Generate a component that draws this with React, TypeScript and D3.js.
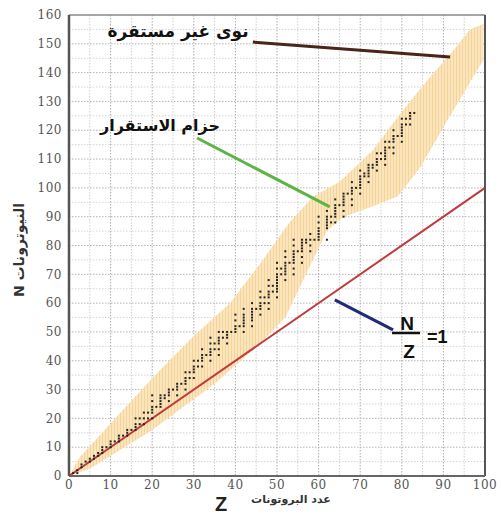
import * as d3 from "d3";

// axis ranges
const zDomain = [0, 100];
const nDomain = [0, 160];
const xTicks = d3.range(0, 101, 10);
const yTicks = d3.range(0, 161, 10);
const gridStep = 5;

// stability belt edges (Z, N)
const beltUpper: [number, number][] = [
  [0, 0], [2.6, 6.6], [12.3, 21.9], [21.9, 36.8], [29.8, 48.3], [38.7, 60],
  [46.6, 75], [53, 88], [58.7, 97], [65, 102], [73, 113], [80.3, 127],
  [86.8, 138.5], [92, 147], [96.4, 155], [99.6, 157],
];
const beltLower: [number, number][] = [
  [0, 0], [5, 2.5], [20, 16], [35, 32], [46, 46], [52, 55], [56.3, 68],
  [62, 85], [66, 90], [72, 93], [79, 97], [84.4, 107], [91, 123.6],
  [99.6, 144.4],
];

// stable nuclides: Z and its stable neutron numbers
const stableZ = d3.range(1, 84);
const stableN: number[][] = [
  [0, 1], [1, 2], [3, 4], [5], [5, 6], [6, 7], [7, 8], [8, 9, 10], [10],
  [10, 11, 12], [12], [12, 13, 14], [14], [14, 15, 16], [16], [16, 17, 18, 20],
  [18, 20], [18, 20, 22], [20, 22], [20, 22, 23, 24, 26, 28], [24],
  [24, 25, 26, 27, 28], [27, 28], [26, 28, 29, 30], [30], [28, 30, 31, 32],
  [32], [30, 32, 33, 34, 36], [34, 36], [34, 36, 37, 38, 40], [38, 40],
  [38, 40, 41, 42, 44], [42], [40, 42, 43, 44, 46, 48], [44, 46],
  [42, 44, 46, 47, 48, 50], [48, 50], [46, 48, 49, 50], [50],
  [50, 51, 52, 54, 56], [52], [50, 52, 53, 54, 55, 56, 58], [],
  [52, 54, 55, 56, 57, 58, 60], [58], [56, 58, 59, 60, 62, 64], [60, 62],
  [58, 60, 62, 63, 64, 66, 68], [64, 66],
  [62, 64, 65, 66, 67, 68, 69, 70, 72, 74], [70, 72],
  [68, 70, 71, 72, 73, 74, 76, 78], [74], [70, 72, 74, 75, 76, 77, 78, 80, 82],
  [78], [74, 76, 78, 79, 80, 81, 82], [81, 82], [78, 80, 82, 84], [82],
  [82, 83, 84, 85, 86, 88, 90], [], [82, 86, 87, 88, 89, 90, 92], [88, 90],
  [88, 90, 91, 92, 93, 94, 96], [94], [90, 92, 94, 95, 96, 97, 98], [98],
  [94, 96, 98, 99, 100, 102], [100], [98, 100, 101, 102, 103, 104, 106],
  [104, 105], [102, 104, 105, 106, 107, 108], [107, 108],
  [106, 108, 109, 110, 112], [110, 112], [108, 110, 111, 112, 113, 114, 116],
  [114, 116], [112, 114, 116, 117, 118, 120], [118],
  [116, 118, 119, 120, 121, 122, 124], [122, 124], [122, 124, 125, 126], [126],
];

// N = Z reference line
const equalLine: [number, number][] = [[0, 0], [100, 100]];

// annotation leader lines (Z, N)
const unstableLeader: [number, number][] = [[44.2, 150.6], [91.6, 145.4]];
const beltLeader: [number, number][] = [[30.8, 117.3], [62.7, 93.4]];
const ratioLeader: [number, number][] = [[63.9, 61.1], [77.9, 50.7]];

const W = 501;
const H = 516;
const left = 69, right = 485, top = 15, bottom = 476;

export default function App() {
  const x = d3.scaleLinear().domain(zDomain).range([left, right]);
  const y = d3.scaleLinear().domain(nDomain).range([bottom, top]);
  const line = d3.line<[number, number]>().x((d) => x(d[0])).y((d) => y(d[1]));

  const beltPath = line([...beltUpper, ...beltLower.slice().reverse()]) + "Z";
  const dots = stableZ.flatMap((z, i) => stableN[i].map((n) => [z, n]));

  const gridX = d3.range(gridStep, 100, gridStep);
  const gridY = d3.range(gridStep, 160, gridStep);
  const arabic = "'DejaVu Sans', sans-serif";
  const latin = "'Liberation Sans', Arial, sans-serif";

  const seg = (s: [number, number][]) => ({
    x1: x(s[0][0]), y1: y(s[0][1]), x2: x(s[1][0]), y2: y(s[1][1]),
  });

  return (
    <svg width={W} height={H} style={{ position: "absolute", left: 0, top: 0, background: "#fff" }}>
      <defs>
        <pattern id="stripes" width="3" height="3" patternUnits="userSpaceOnUse">
          <rect width="3" height="3" fill="#fbe5bd" />
          <line x1="0.5" y1="0" x2="0.5" y2="3" stroke="#f5d49c" strokeWidth="1" />
        </pattern>
      </defs>

      {/* grid */}
      {gridX.map((v) => (
        <line key={"gx" + v} x1={x(v)} x2={x(v)} y1={top} y2={bottom}
          stroke={v % 10 === 0 ? "#aaa" : "#cfcfcf"} strokeWidth={1} strokeDasharray="1.5,1.5" />
      ))}
      {gridY.map((v) => (
        <line key={"gy" + v} x1={left} x2={right} y1={y(v)} y2={y(v)}
          stroke={v % 10 === 0 ? "#b5b5b5" : "#d5d5d5"} strokeWidth={1} strokeDasharray="1.5,1.5" />
      ))}

      {/* stability belt */}
      <path d={beltPath} fill="url(#stripes)" />

      {/* N = Z */}
      <path d={line(equalLine) || ""} stroke="#c0393b" strokeWidth={2} fill="none" />

      {/* stable nuclides */}
      {dots.map(([z, n], i) => (
        <rect key={i} x={x(z) - 1} y={y(n) - 1} width={2} height={2} fill="#222" />
      ))}

      {/* frame */}
      <line x1={left} x2={right} y1={top} y2={top} stroke="#888" strokeWidth={1.5} />
      <line x1={right} x2={right} y1={top} y2={bottom} stroke="#555" strokeWidth={2} />
      <line x1={left} x2={right} y1={bottom} y2={bottom} stroke="#666" strokeWidth={2} />
      <line x1={left} x2={left} y1={top} y2={bottom} stroke="#555" strokeWidth={2.5} />

      {/* tick labels */}
      {yTicks.map((v) => (
        <text key={"yt" + v} x={62} y={y(v)} dy="0.35em" textAnchor="end"
          fontFamily="'DejaVu Serif', serif" fontSize={12} fill="#555" letterSpacing={0.5}>{v}</text>
      ))}
      {xTicks.map((v) => (
        <text key={"xt" + v} x={x(v)} y={489} textAnchor="middle"
          fontFamily="'DejaVu Serif', serif" fontSize={12} fill="#555" letterSpacing={0.5}>{v}</text>
      ))}

      {/* axis titles */}
      <text x={221} y={511} textAnchor="middle" fontFamily={latin} fontWeight="bold" fontSize={20} fill="#222">Z</text>
      <text x={291} y={503} textAnchor="middle" fontFamily={arabic} fontWeight="bold" fontSize={11} fill="#333">عدد البروتونات</text>
      <text transform="translate(24,250) rotate(-90)" textAnchor="middle" fontFamily={arabic}
        fontWeight="bold" fontSize={14} fill="#333">N النيوترونات</text>

      {/* annotations */}
      <line {...seg(unstableLeader)} stroke="#4a2418" strokeWidth={3} />
      <text x={178} y={37} textAnchor="middle" fontFamily={arabic} fontWeight="bold" fontSize={17} fill="#111">نوى غير مستقرة</text>

      <line {...seg(beltLeader)} stroke="#5cb543" strokeWidth={3} />
      <text x={160} y={131} textAnchor="middle" fontFamily={arabic} fontWeight="bold" fontSize={16} fill="#111">حزام الاستقرار</text>

      <line {...seg(ratioLeader)} stroke="#1e2b78" strokeWidth={3} />
      <text x={407} y={330} textAnchor="middle" fontFamily={latin} fontWeight="bold" fontSize={19} fill="#111">N</text>
      <line x1={392} x2={420} y1={333} y2={333} stroke="#111" strokeWidth={2.5} />
      <text x={409} y={358} textAnchor="middle" fontFamily={latin} fontWeight="bold" fontSize={19} fill="#111">Z</text>
      <text x={427} y={343} fontFamily={latin} fontWeight="bold" fontSize={18} fill="#111">=1</text>
    </svg>
  );
}
